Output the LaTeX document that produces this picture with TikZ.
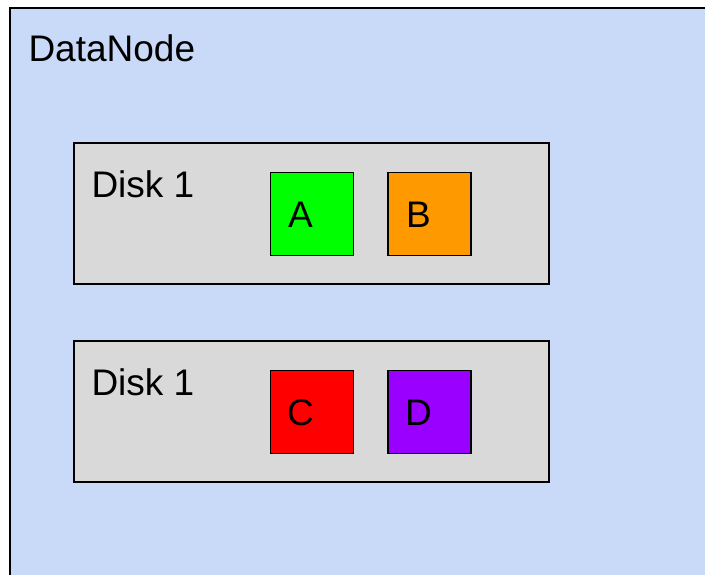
\documentclass[tikz,border=0pt]{standalone}
\usepackage{fontspec}
\setmainfont{Liberation Sans}
\definecolor{nodeblue}{HTML}{C9DAF8}
\definecolor{diskgray}{HTML}{D9D9D9}
\definecolor{blkgreen}{HTML}{00FF00}
\definecolor{blkorange}{HTML}{FF9900}
\definecolor{blkred}{HTML}{FF0000}
\definecolor{blkpurple}{HTML}{9900FF}
\begin{document}
\begin{tikzpicture}[x=1pt,y=-1pt,
  outerbox/.style={draw=black,line width=1.5pt,fill=nodeblue,inner sep=0,outer sep=0,anchor=north west,minimum width=720pt,minimum height=590pt},
  diskbox/.style={draw=black,line width=1.6pt,fill=diskgray,inner sep=0,outer sep=0,anchor=north west,minimum width=475pt,minimum height=141pt},
  blockbox/.style={draw=black,line width=1.6pt,inner sep=0,outer sep=0,anchor=north west,minimum width=83pt,minimum height=83pt},
  lbl/.style={inner sep=0,outer sep=0,anchor=base west,font=\fontsize{37}{40}\selectfont},
  blbl/.style={inner sep=0,outer sep=0,anchor=base,font=\fontsize{37}{40}\selectfont}]
\useasboundingbox (0,0) rectangle (705,574);
\clip (0,0) rectangle (705,574);
\node[outerbox] (dn) at (10,8) {};
\node[lbl] (dntext) at (28.5,61) {DataNode};
\node[diskbox] (d1) at (74,143) {};
\node[lbl] (d1text) at (91.5,197) {Disk 1};
\node[blockbox,fill=blkgreen] (a) at (270.5,172.5) {};
\node[blockbox,fill=blkorange] (b) at (388,172.5) {};
\node[blbl] (atext) at (300.5,227.5) {A};
\node[blbl] (btext) at (418.5,227.5) {B};
\node[diskbox] (d2) at (74,341) {};
\node[lbl] (d2text) at (91.5,395) {Disk 1};
\node[blockbox,fill=blkred] (c) at (270.5,370.5) {};
\node[blockbox,fill=blkpurple] (d) at (388,370.5) {};
\node[blbl] (ctext) at (300.5,425.5) {C};
\node[blbl] (dtext) at (418.5,425.5) {D};
\end{tikzpicture}
\end{document}
